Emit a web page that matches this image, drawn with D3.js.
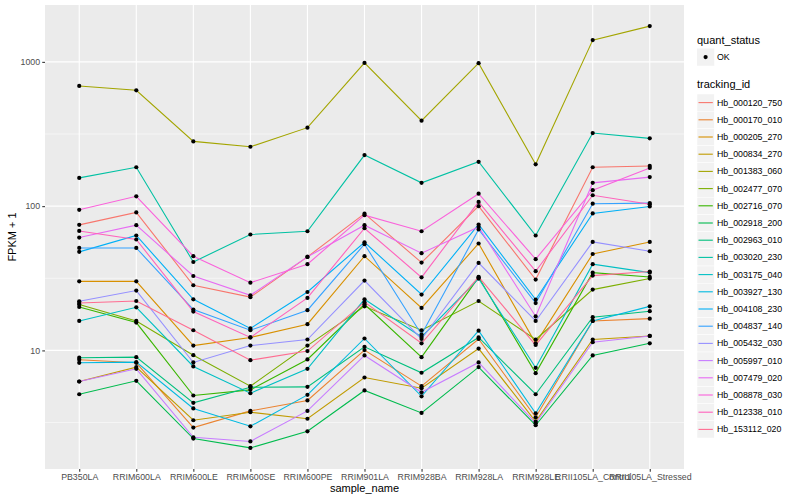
<!DOCTYPE html>
<html><head><meta charset="utf-8">
<script src="https://cdn.jsdelivr.net/npm/d3@7"></script>
<style>body{margin:0;background:#fff}svg{display:block}text{font-family:"Liberation Sans",Arial,sans-serif}</style>
</head><body><svg id="c" width="800" height="500"></svg>
<script>
const samples = ["PB350LA","RRIM600LA","RRIM600LE","RRIM600SE","RRIM600PE","RRIM901LA","RRIM928BA","RRIM928LA","RRIM928LE","RRII105LA_Control","RRII105LA_Stressed"];
const trackingIds = ["Hb_000120_750","Hb_000170_010","Hb_000205_270","Hb_000834_270","Hb_001383_060","Hb_002477_070","Hb_002716_070","Hb_002918_200","Hb_002963_010","Hb_003020_230","Hb_003175_040","Hb_003927_130","Hb_004108_230","Hb_004837_140","Hb_005432_030","Hb_005997_010","Hb_007479_020","Hb_008878_030","Hb_012338_010","Hb_153112_020"];
const seriesColors = ["#F8766D","#EA8331","#D89000","#C09B00","#A3A500","#7CAE00","#39B600","#00BB4E","#00BF7D","#00C1A3","#00BFC4","#00BAE0","#00B0F6","#35A2FF","#9590FF","#C77CFF","#E76BF3","#FA62DB","#FF62BC","#FF6C91"];
// FPKM + 1 per tracking id, in sample order
const Hb_000120_750 = [74.2, 90.4, 28.3, 23.4, 44.5, 88.7, 40.6, 100, 31.0, 186, 190];
const Hb_000170_010 = [8.62, 8.21, 2.92, 3.81, 4.50, 10.05, 5.65, 12.0, 3.44, 16.0, 16.6];
const Hb_000205_270 = [30.1, 30.1, 10.8, 12.3, 15.2, 45.0, 19.7, 55.1, 11.2, 46.6, 56.5];
const Hb_000834_270 = [6.09, 7.66, 3.28, 3.73, 3.36, 6.49, 5.47, 10.3, 3.21, 11.9, 12.6];
const Hb_001383_060 = [681, 635, 281, 258, 350, 984, 391, 979, 195, 1415, 1770];
const Hb_002477_070 = [20.8, 16.0, 9.27, 5.65, 10.8, 20.2, 13.8, 22.0, 11.9, 26.4, 31.5];
const Hb_002716_070 = [20.0, 15.6, 4.87, 5.33, 8.66, 20.9, 8.98, 32.1, 6.96, 34.6, 32.3];
const Hb_002918_200 = [4.97, 6.16, 2.45, 2.11, 2.75, 5.28, 3.69, 7.66, 3.03, 9.23, 11.2];
const Hb_002963_010 = [8.90, 8.98, 4.33, 5.56, 5.59, 10.6, 7.00, 12.3, 4.97, 17.0, 18.7];
const Hb_003020_230 = [157, 186, 41.0, 63.6, 67.0, 226, 145, 203, 62.6, 321, 295];
const Hb_003175_040 = [16.0, 19.9, 7.74, 5.05, 7.46, 22.6, 12.4, 31.5, 7.58, 39.6, 34.6];
const Hb_003927_130 = [8.21, 8.29, 3.96, 2.98, 4.92, 12.1, 4.81, 13.7, 3.67, 16.0, 20.2];
const Hb_004108_230 = [48.2, 62.6, 22.6, 14.2, 25.4, 56.2, 24.4, 74.6, 22.5, 89.0, 99.5];
const Hb_004837_140 = [51.3, 51.3, 19.2, 13.8, 19.0, 54.5, 12.9, 68.9, 21.3, 104, 105];
const Hb_005432_030 = [21.9, 26.0, 8.25, 10.8, 11.9, 30.5, 12.0, 40.4, 16.0, 56.5, 48.7];
const Hb_005997_010 = [6.09, 7.46, 2.50, 2.34, 3.81, 9.23, 5.13, 8.25, 3.13, 11.4, 12.6];
const Hb_007479_020 = [60.6, 73.8, 32.8, 24.1, 44.5, 73.8, 47.2, 71.8, 17.2, 145, 159];
const Hb_008878_030 = [94.3, 117, 45.0, 29.5, 39.6, 86.6, 67.0, 122, 42.9, 129, 184];
const Hb_012338_010 = [67.3, 58.7, 18.6, 12.3, 23.1, 70.3, 32.1, 107, 35.4, 119, 103];
const Hb_153112_020 = [21.3, 22.0, 13.8, 8.56, 9.9, 21.6, 11.2, 32.3, 10.9, 33.0, 35.2];
const yBreaks = [10, 100, 1000];
const yBreakLabels = ["10", "100", "1000"];

const seriesValues = [Hb_000120_750,Hb_000170_010,Hb_000205_270,Hb_000834_270,Hb_001383_060,Hb_002477_070,Hb_002716_070,Hb_002918_200,Hb_002963_010,Hb_003020_230,Hb_003175_040,Hb_003927_130,Hb_004108_230,Hb_004837_140,Hb_005432_030,Hb_005997_010,Hb_007479_020,Hb_008878_030,Hb_012338_010,Hb_153112_020];
const series = trackingIds.map((id,i)=>({id, color:seriesColors[i], values:seriesValues[i].map((v,j)=>({s:samples[j], v}))}));

const svg = d3.select("#c");
const P = {l:45, r:684, t:5, b:469};
const allV = seriesValues.flat();
const lmin = Math.log10(d3.min(allV)), lmax = Math.log10(d3.max(allV));
const ex = (lmax-lmin)*0.05;
const y = d3.scaleLog().domain([10**(lmin-ex), 10**(lmax+ex)]).range([P.b, P.t]);
const x = d3.scalePoint().domain(samples).range([P.l, P.r]).padding(0.6);

svg.append("rect").attr("x",P.l).attr("y",P.t).attr("width",P.r-P.l).attr("height",P.b-P.t).attr("fill","#EBEBEB");
const g = svg.append("g");
// minor grid
const minor = [10**0.5, 10**1.5, 10**2.5, 10**3.5].filter(v=>v>y.domain()[0] && v<y.domain()[1]);
g.selectAll(".ymin").data(minor).join("line").attr("x1",P.l).attr("x2",P.r).attr("y1",d=>y(d)).attr("y2",d=>y(d)).attr("stroke","#fff").attr("stroke-width",0.55);
g.selectAll(".ymaj").data(yBreaks).join("line").attr("x1",P.l).attr("x2",P.r).attr("y1",d=>y(d)).attr("y2",d=>y(d)).attr("stroke","#fff").attr("stroke-width",1.1);
g.selectAll(".xmaj").data(samples).join("line").attr("x1",d=>x(d)).attr("x2",d=>x(d)).attr("y1",P.t).attr("y2",P.b).attr("stroke","#fff").attr("stroke-width",1.1);

const line = d3.line().x(d=>x(d.s)).y(d=>y(d.v));
svg.append("g").selectAll("path").data(series).join("path").attr("d",d=>line(d.values)).attr("fill","none").attr("stroke",d=>d.color).attr("stroke-width",1.1);
svg.append("g").selectAll("g").data(series).join("g").selectAll("circle").data(d=>d.values).join("circle")
  .attr("cx",d=>x(d.s)).attr("cy",d=>y(d.v)).attr("r",2.1).attr("fill","#000");

// axes
const yAxis = d3.axisLeft(y).tickValues(yBreaks).tickFormat((d,i)=>yBreakLabels[i]).tickSize(2.75).tickPadding(2.2);
const ya = svg.append("g").attr("transform",`translate(${P.l},0)`).call(yAxis);
const xAxis = d3.axisBottom(x).tickSize(2.75).tickPadding(2.2);
const xa = svg.append("g").attr("transform",`translate(0,${P.b})`).call(xAxis);
[ya,xa].forEach(a=>{a.select(".domain").remove();a.selectAll("line").attr("stroke","#333").attr("stroke-width",1.07);a.selectAll("text").attr("fill","#4D4D4D").style("font-size","8.8px").style("font-family","Liberation Sans, Arial, sans-serif");});

svg.append("text").attr("x",(P.l+P.r)/2).attr("y",492).attr("text-anchor","middle").style("font-size","11px").text("sample_name");
svg.append("text").attr("transform",`translate(16,${(P.t+P.b)/2}) rotate(-90)`).attr("text-anchor","middle").style("font-size","11px").text("FPKM + 1");

// legend
const L = svg.append("g");
L.append("text").attr("x",697).attr("y",44).style("font-size","11px").text("quant_status");
L.append("rect").attr("x",697).attr("y",48.5).attr("width",17.28).attr("height",17.28).attr("fill","#F2F2F2");
L.append("circle").attr("cx",705.6).attr("cy",57.1).attr("r",2.1).attr("fill","#000");
L.append("text").attr("x",717).attr("y",60.2).style("font-size","8.8px").text("OK");
L.append("text").attr("x",697).attr("y",88).style("font-size","11px").text("tracking_id");
const ly = d3.scaleBand().domain(trackingIds).range([94, 94+17.2*trackingIds.length]);
const items = L.selectAll(".it").data(series).join("g").attr("transform",d=>`translate(697,${ly(d.id)})`);
items.append("rect").attr("width",17.28).attr("height",17.2).attr("fill","#F2F2F2").attr("stroke","#fff").attr("stroke-width",0.5);
items.append("line").attr("x1",1.5).attr("x2",15.8).attr("y1",8.6).attr("y2",8.6).attr("stroke",d=>d.color).attr("stroke-width",1.1);
items.append("text").attr("x",20).attr("y",11.7).style("font-size","8.8px").text(d=>d.id);
</script></body></html>
